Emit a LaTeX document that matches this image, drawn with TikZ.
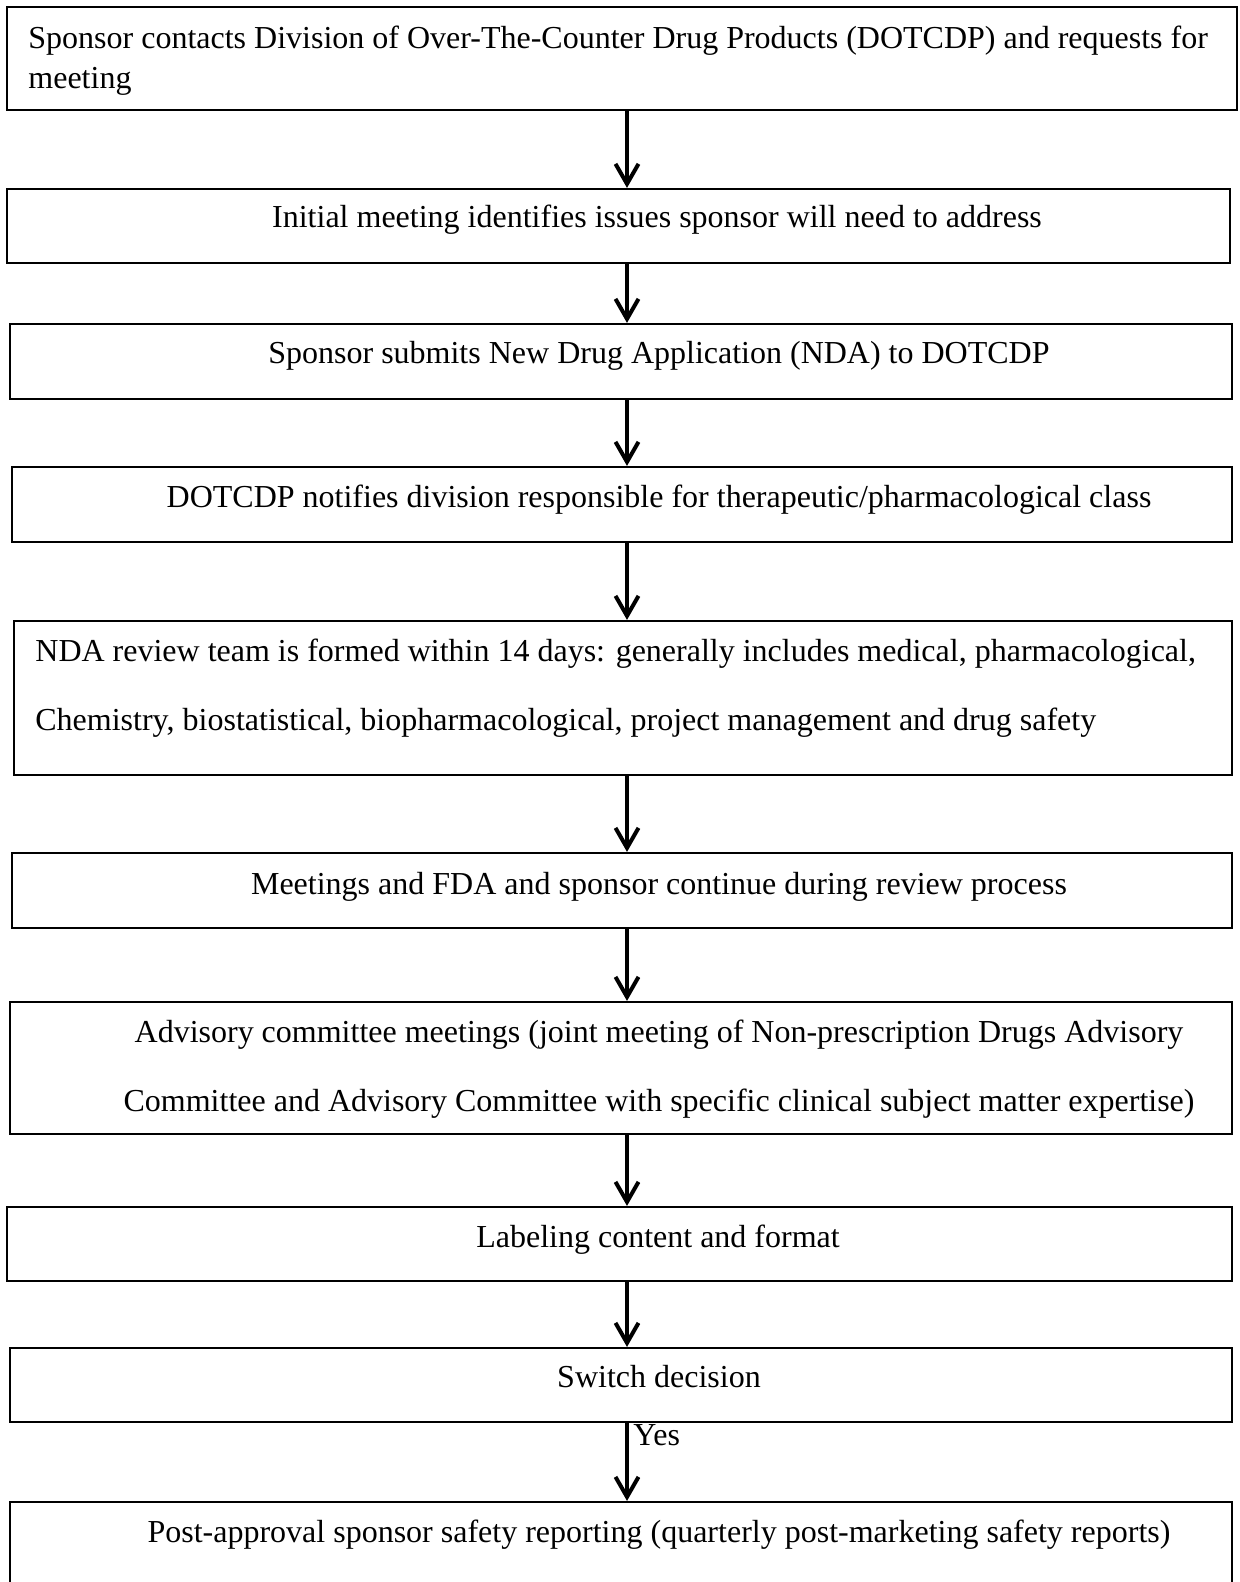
\documentclass[tikz,border=0pt]{standalone}
\usepackage{fontspec}
\setmainfont{Liberation Serif}
\usetikzlibrary{arrows.meta,fit}

\tikzset{
  stage/.style={draw=black, line width=1.1pt, inner sep=0pt},
  txt/.style={inner sep=0pt, font=\fontsize{16}{20}\selectfont},
  wide/.style={inner sep=0pt, font=\fontsize{16}{34.5}\selectfont},
  flow/.style={line width=2pt, -{Straight Barb[length=10pt,width=11.5pt]}},
}

\begin{document}
\begin{tikzpicture}[x=0.5pt,y=-0.5pt]
    \useasboundingbox (0,0) rectangle (1239,1582);
    \clip (0,0) rectangle (1239,1582);

    % Cajas del proceso
    \node[stage, fit={(7,7) (1237,110)}] (s1) {};
    \node[stage, fit={(7,189) (1230,263)}] (s2) {};
    \node[stage, fit={(10,324) (1232,399)}] (s3) {};
    \node[stage, fit={(12,467) (1232,542)}] (s4) {};
    \node[stage, fit={(14,621) (1232,775)}] (s5) {};
    \node[stage, fit={(12,853) (1232,928)}] (s6) {};
    \node[stage, fit={(10,1002) (1232,1134)}] (s7) {};
    \node[stage, fit={(7,1207) (1232,1281)}] (s8) {};
    \node[stage, fit={(10,1348) (1232,1422)}] (s9) {};
    \node[stage, fit={(10,1502) (1232,1640)}] (s10) {};

    % Textos (en los de varias lineas, la base es la ultima linea)
    \node[txt, anchor=base west, align=left] (t1) at (28,89)
      {Sponsor contacts Division of Over-The-Counter Drug Products (DOTCDP) and requests for\\meeting};
    \node[txt, anchor=base] (t2) at (657,228) {Initial meeting identifies issues sponsor will need to address};
    \node[txt, anchor=base] (t3) at (659,364) {Sponsor submits New Drug Application (NDA) to DOTCDP};
    \node[txt, anchor=base] (t4) at (659,508) {DOTCDP notifies division responsible for therapeutic/pharmacological class};
    \node[wide, anchor=base west, align=left] (t5) at (35,730)
      {NDA review team is formed within 14 days: generally includes medical, pharmacological,\\Chemistry, biostatistical, biopharmacological, project management and drug safety};
    \node[txt, anchor=base] (t6) at (659,894) {Meetings and FDA and sponsor continue during review process};
    \node[wide, anchor=base, align=center] (t7) at (659,1111)
      {Advisory committee meetings (joint meeting of Non-prescription Drugs Advisory\\Committee and Advisory Committee with specific clinical subject matter expertise)};
    \node[txt, anchor=base] (t8) at (658,1247) {Labeling content and format};
    \node[txt, anchor=base] (t9) at (659,1387) {Switch decision};
    \node[txt, anchor=base] (t10) at (659,1542) {Post-approval sponsor safety reporting (quarterly post-marketing safety reports)};

    % Flechas
    \coordinate (spine) at (627,0);
    \foreach \a/\b in {1/2,2/3,3/4,4/5,5/6,6/7,7/8,8/9,9/10}
      \draw[flow] (s\a.south -| spine) -- (s\b.north -| spine);

    % Etiqueta de la decision
    \node[txt, anchor=north west] (yes) at (633,1424) {Yes};
\end{tikzpicture}
\end{document}
